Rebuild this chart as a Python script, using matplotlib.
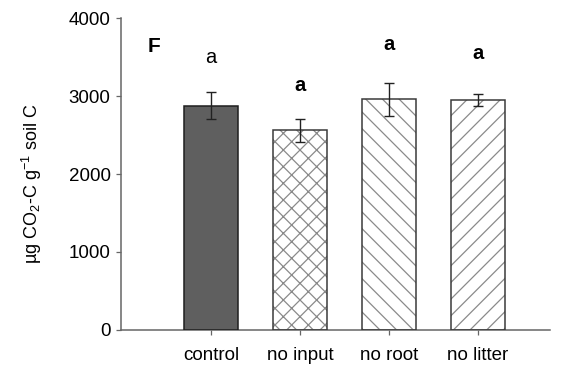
import matplotlib
matplotlib.use("Agg")
import matplotlib.pyplot as plt

plt.rcParams["font.family"] = ["Liberation Sans", "DejaVu Sans"]
plt.rcParams["mathtext.fontset"] = "custom"
plt.rcParams["mathtext.rm"] = "Liberation Sans"
plt.rcParams["mathtext.it"] = "Liberation Sans:italic"
plt.rcParams["mathtext.bf"] = "Liberation Sans:bold"
plt.rcParams["hatch.linewidth"] = 0.9

# cumulative respiration per treatment (mean, SE) and significance letters
treatments = ["control", "no input", "no root", "no litter"]
means = [2875, 2560, 2960, 2945]
errors = [172, 148, 212, 75]
letters = ["a", "a", "a", "a"]
letter_y = [3500, 3140, 3655, 3550]
letter_bold = [False, True, True, True]

fills = ["#5f5f5f", "white", "white", "white"]
hatches = [None, "xx", "\\\\", "//"]

fig = plt.figure(figsize=(5.70, 3.69), dpi=100)
ax = fig.add_axes([0.2123, 0.1057, 0.7527, 0.8455])

x = list(range(len(treatments)))
for i in x:
    if hatches[i]:
        # hatch drawn in light grey, outline drawn separately in dark grey
        ax.bar(i, means[i], width=0.61, color=fills[i], edgecolor="#8a8a8a",
               hatch=hatches[i], linewidth=0, zorder=2)
        ax.bar(i, means[i], width=0.61, fill=False, edgecolor="#3a3a3a",
               linewidth=1.1, zorder=3)
    else:
        ax.bar(i, means[i], width=0.61, color=fills[i], edgecolor="#1e1e1e",
               linewidth=1.1, zorder=3)

ax.errorbar(x, means, yerr=errors, fmt="none", ecolor="#222222",
            elinewidth=1.0, capsize=3.6, capthick=1.0, zorder=4)

for i in x:
    ax.text(i, letter_y[i], letters[i], ha="center", va="center",
            fontsize=14.5, fontweight="bold" if letter_bold[i] else "normal")

ax.text(-0.64, 3640, "F", ha="center", va="center", fontsize=15,
        fontweight="bold")

ax.set_xlim(-1.01, 3.81)
ax.set_ylim(0, 4000)
ax.set_yticks([0, 1000, 2000, 3000, 4000])
ax.set_xticks(x)
ax.set_xticklabels(treatments)

for side in ["top", "right"]:
    ax.spines[side].set_visible(False)
for side in ["left", "bottom"]:
    ax.spines[side].set_color("#666666")
    ax.spines[side].set_linewidth(1.1)

ax.tick_params(axis="both", direction="out", length=3.5, width=0.9,
               color="#666666", labelsize=13.5, pad=4)
ax.tick_params(axis="x", pad=9)

ax.set_ylabel("µg CO$_2$-C g$^{-1}$ soil C", fontsize=13)
ax.yaxis.set_label_coords(-0.18, 0.47)

fig.savefig("out.png", dpi=100)
